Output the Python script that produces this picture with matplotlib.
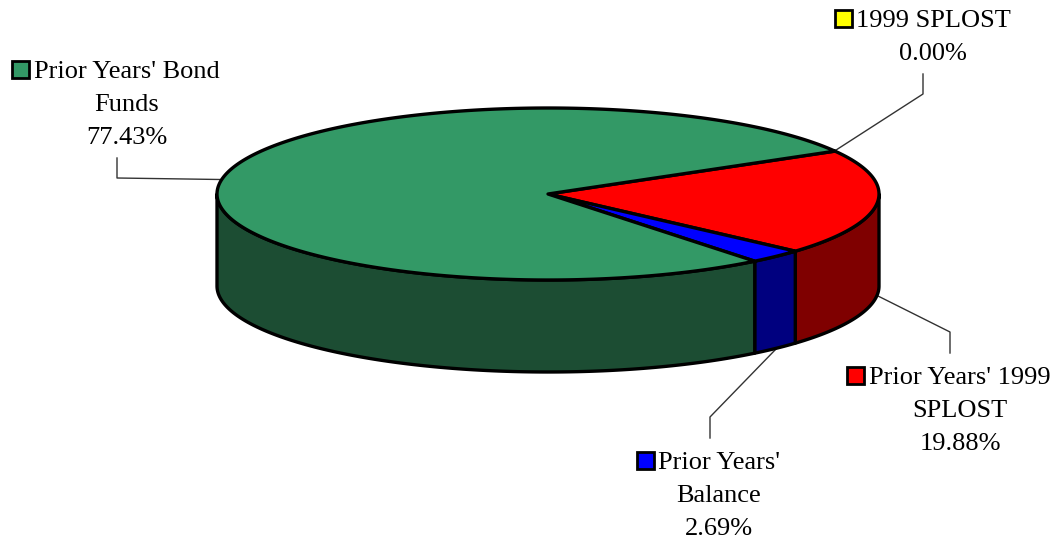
import numpy as np
import matplotlib
matplotlib.use("Agg")
import matplotlib.pyplot as plt
from matplotlib.patches import Polygon, Rectangle

plt.rcParams["font.family"] = ["Liberation Serif", "DejaVu Serif"]

# slices in clockwise drawing order, starting at the yellow one
names = ["1999 SPLOST", "Prior Years' 1999 SPLOST", "Prior Years' Balance", "Prior Years' Bond Funds"]
shares = [0.00, 19.88, 2.69, 77.43]
top_colors = ["#FFFF00", "#FF0000", "#0000FF", "#339966"]
side_colors = ["#7F7F00", "#7F0000", "#00007F", "#1C4D33"]

CX, CY, RX, RY = 548, 194, 331, 86
DEPTH = 92
START = 29.9
LW = 2.4
FS = 19.0


def rim(a0, a1, n=200):
    t = np.radians(np.linspace(a0, a1, n))
    return CX + RX * np.cos(t), CY - RY * np.sin(t)


fig = plt.figure(figsize=(10.55, 5.41), dpi=100)
ax = fig.add_axes([0, 0, 1, 1])
ax.set_xlim(0, 1055)
ax.set_ylim(541, 0)
ax.axis("off")

# turn the shares into angles, going clockwise
spans = np.array(shares) / sum(shares) * 360
ends = START - np.cumsum(spans)
starts = ends + spans

# side walls, only the front half of the rim shows
for a0, a1, col in zip(starts, ends, side_colors):
    lo, hi = max(a1, -180), min(a0, 0)
    if hi <= lo:
        continue
    x, y = rim(hi, lo)
    pts = np.r_[np.c_[x, y], np.c_[x[::-1], y[::-1] + DEPTH]]
    ax.add_patch(Polygon(pts, closed=True, fc=col, ec="black", lw=LW, joinstyle="round", zorder=2))

# top faces
for a0, a1, col in zip(starts, ends, top_colors):
    if a0 == a1:
        continue
    x, y = rim(a0, a1, 400)
    pts = np.r_[[[CX, CY]], np.c_[x, y]]
    ax.add_patch(Polygon(pts, closed=True, fc=col, ec="black", lw=LW, joinstyle="round", zorder=3))

# leader lines
leaders = [
    ([833, 923, 923], [152, 94, 74]),
    ([878, 950, 950], [296, 332, 353]),
    ([776, 710, 710], [349, 417, 438]),
    ([220, 117, 117], [179.5, 178, 158]),
]
for lx, ly in leaders:
    ax.plot(lx, ly, color="#333333", lw=1, zorder=1)


def label(lines, cx, y0, box_x, col):
    for i, s in enumerate(lines):
        ax.text(cx, y0 + 2 + i * 33, s, fontsize=FS, ha="center", va="center", color="black")
    ax.add_patch(Rectangle((box_x, y0 - 9), 17, 17, fc=col, ec="black", lw=2, zorder=4))


label(["1999 SPLOST", "%.2f%%" % shares[0]], 933, 19, 835, top_colors[0])
label(["Prior Years' 1999", "SPLOST", "%.2f%%" % shares[1]], 960, 376, 847, top_colors[1])
label(["Prior Years'", "Balance", "%.2f%%" % shares[2]], 719, 461, 637, top_colors[2])
label(["Prior Years' Bond", "Funds", "%.2f%%" % shares[3]], 127, 70, 12, top_colors[3])

fig.savefig("out.png", dpi=100, facecolor="white")
